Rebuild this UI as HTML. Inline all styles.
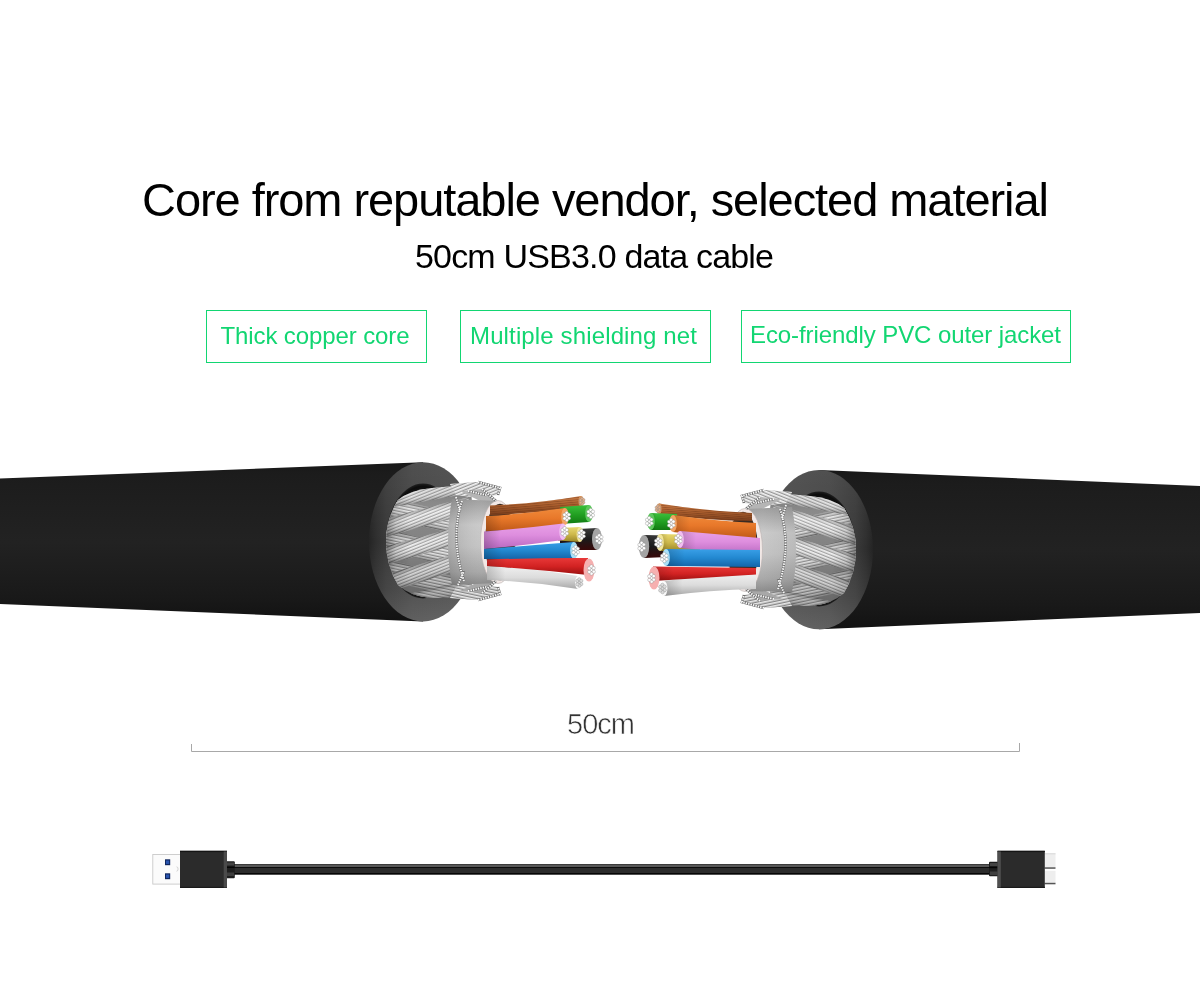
<!DOCTYPE html>
<html><head><meta charset="utf-8"><title>USB3.0 cable</title>
<style>
html,body{margin:0;padding:0;background:#fff;}
body{width:1200px;height:1000px;overflow:hidden;position:relative;font-family:"Liberation Sans",sans-serif;}
svg{position:absolute;left:0;top:0;display:block;will-change:transform;}
</style></head>
<body>
<svg width="1200" height="1000" viewBox="0 0 1200 1000" font-family="Liberation Sans, sans-serif">
<defs>
<linearGradient id="jk" x1="0" y1="0" x2="0" y2="1">
<stop offset="0" stop-color="#181818"/><stop offset="0.08" stop-color="#1c1c1c"/><stop offset="0.5" stop-color="#222"/><stop offset="0.85" stop-color="#191919"/><stop offset="1" stop-color="#121212"/>
</linearGradient>
<linearGradient id="faceL" x1="0" y1="0" x2="1" y2="0">
<stop offset="0" stop-color="#242424"/><stop offset="0.06" stop-color="#2e2e2e"/><stop offset="0.16" stop-color="#3a3a3a"/><stop offset="0.4" stop-color="#464646"/><stop offset="1" stop-color="#4e4e4e"/>
</linearGradient>
<linearGradient id="faceR" x1="1" y1="0" x2="0" y2="0">
<stop offset="0" stop-color="#242424"/><stop offset="0.06" stop-color="#2e2e2e"/><stop offset="0.16" stop-color="#3a3a3a"/><stop offset="0.4" stop-color="#464646"/><stop offset="1" stop-color="#4e4e4e"/>
</linearGradient>
<linearGradient id="faceV" x1="0" y1="0" x2="0" y2="1">
<stop offset="0" stop-color="#fff" stop-opacity="0.05"/><stop offset="0.5" stop-color="#fff" stop-opacity="0"/><stop offset="0.8" stop-color="#fff" stop-opacity="0.06"/><stop offset="1" stop-color="#fff" stop-opacity="0.14"/>
</linearGradient>
<linearGradient id="braid" x1="0" y1="0" x2="0" y2="1">
<stop offset="0" stop-color="#b8b8b8"/><stop offset="0.25" stop-color="#d2d2d2"/><stop offset="0.5" stop-color="#c4c4c4"/><stop offset="0.8" stop-color="#a8a8a8"/><stop offset="1" stop-color="#8a8a8a"/>
</linearGradient>
<linearGradient id="foil" x1="0" y1="0" x2="0" y2="1">
<stop offset="0" stop-color="#9a9a9a"/><stop offset="0.3" stop-color="#c8c8c8"/><stop offset="0.55" stop-color="#c2c2c2"/><stop offset="0.85" stop-color="#a4a4a4"/><stop offset="1" stop-color="#858585"/>
</linearGradient>
<pattern id="strands" width="4" height="4" patternUnits="userSpaceOnUse" patternTransform="rotate(-12)">
<rect width="4" height="1.4" fill="#000" fill-opacity="0.22"/>
</pattern>
<pattern id="strands2" width="4" height="4" patternUnits="userSpaceOnUse" patternTransform="rotate(14)">
<rect width="4" height="1.4" fill="#000" fill-opacity="0.22"/>
</pattern>
<linearGradient id="wBrown" x1="0" y1="0" x2="0" y2="1"><stop offset="0" stop-color="#c87a45"/><stop offset="0.5" stop-color="#a85c2c"/><stop offset="1" stop-color="#7a3e1c"/></linearGradient>
<linearGradient id="wOrange" x1="0" y1="0" x2="0" y2="1"><stop offset="0" stop-color="#f08a3a"/><stop offset="0.45" stop-color="#e8782a"/><stop offset="1" stop-color="#c05a18"/></linearGradient>
<linearGradient id="wGreen" x1="0" y1="0" x2="0" y2="1"><stop offset="0" stop-color="#3cc03c"/><stop offset="0.5" stop-color="#22a022"/><stop offset="1" stop-color="#127a12"/></linearGradient>
<linearGradient id="wPink" x1="0" y1="0" x2="0" y2="1"><stop offset="0" stop-color="#e8a0e8"/><stop offset="0.45" stop-color="#de8ede"/><stop offset="1" stop-color="#b868c0"/></linearGradient>
<linearGradient id="wYellow" x1="0" y1="0" x2="0" y2="1"><stop offset="0" stop-color="#e8d870"/><stop offset="0.5" stop-color="#cdb84a"/><stop offset="1" stop-color="#9a8628"/></linearGradient>
<linearGradient id="wBlack" x1="0" y1="0" x2="0" y2="1"><stop offset="0" stop-color="#3a3a3a"/><stop offset="0.5" stop-color="#1a1a1a"/><stop offset="1" stop-color="#3a0808"/></linearGradient>
<linearGradient id="wBlue" x1="0" y1="0" x2="0" y2="1"><stop offset="0" stop-color="#3aa0e8"/><stop offset="0.5" stop-color="#2288d0"/><stop offset="1" stop-color="#1464a8"/></linearGradient>
<linearGradient id="wRed" x1="0" y1="0" x2="0" y2="1"><stop offset="0" stop-color="#e83838"/><stop offset="0.5" stop-color="#d22222"/><stop offset="1" stop-color="#9a1010"/></linearGradient>
<linearGradient id="wWhite" x1="0" y1="0" x2="0" y2="1"><stop offset="0" stop-color="#f0f0f0"/><stop offset="0.5" stop-color="#dcdcdc"/><stop offset="1" stop-color="#a8a8a8"/></linearGradient>
<pattern id="cuLines" width="3" height="2.2" patternUnits="userSpaceOnUse" patternTransform="rotate(-5)">
<rect width="3" height="0.8" fill="#5a2a10" fill-opacity="0.35"/>
</pattern>
<pattern id="strA" width="3" height="3" patternUnits="userSpaceOnUse" patternTransform="rotate(-22)">
<rect width="3" height="3" fill="#d8d8d8"/><rect y="0" width="3" height="1" fill="#f2f2f2"/><rect y="2" width="3" height="1" fill="#959595"/>
</pattern>
<pattern id="strB" width="3" height="3" patternUnits="userSpaceOnUse" patternTransform="rotate(12)">
<rect width="3" height="3" fill="#c8c8c8"/><rect y="0" width="3" height="1" fill="#e8e8e8"/><rect y="2" width="3" height="1" fill="#858585"/>
</pattern>
<linearGradient id="bShadeH" x1="0" y1="0" x2="1" y2="0">
<stop offset="0" stop-color="#000" stop-opacity="0.6"/><stop offset="0.08" stop-color="#000" stop-opacity="0.35"/><stop offset="0.16" stop-color="#000" stop-opacity="0.12"/><stop offset="0.3" stop-color="#000" stop-opacity="0"/><stop offset="1" stop-color="#000" stop-opacity="0"/>
</linearGradient>
<linearGradient id="bShadeV" x1="0" y1="0" x2="0" y2="1">
<stop offset="0" stop-color="#000" stop-opacity="0.1"/><stop offset="0.25" stop-color="#fff" stop-opacity="0.08"/><stop offset="0.55" stop-color="#000" stop-opacity="0"/><stop offset="1" stop-color="#000" stop-opacity="0.25"/>
</linearGradient>
<linearGradient id="foilH" x1="0" y1="0" x2="1" y2="0">
<stop offset="0" stop-color="#000" stop-opacity="0.12"/><stop offset="0.5" stop-color="#fff" stop-opacity="0.05"/><stop offset="1" stop-color="#000" stop-opacity="0.05"/>
</linearGradient>
<linearGradient id="wShade" x1="0" y1="0" x2="1" y2="0">
<stop offset="0" stop-color="#000" stop-opacity="0.18"/><stop offset="0.2" stop-color="#000" stop-opacity="0"/><stop offset="1" stop-color="#000" stop-opacity="0"/>
</linearGradient>
<radialGradient id="holeG" cx="0.5" cy="0.5" r="0.5">
<stop offset="0.8" stop-color="#1a1a1a"/><stop offset="0.95" stop-color="#0c0c0c"/><stop offset="1" stop-color="#202020"/>
</radialGradient>
</defs>
<rect x="0" y="0" width="1200" height="1000" fill="#fff"/>

<!-- headings -->
<text x="142" y="215.5" font-size="47" fill="#000" textLength="907" lengthAdjust="spacing">Core from reputable vendor, selected material</text>
<text x="415" y="268.2" font-size="34" fill="#000" textLength="359" lengthAdjust="spacing">50cm USB3.0 data cable</text>

<!-- feature boxes -->
<g fill="none" stroke="#12d672" stroke-width="1">
<rect x="206.5" y="310.5" width="220" height="52"/>
<rect x="460.5" y="310.5" width="250" height="52"/>
<rect x="741.5" y="310.5" width="329" height="52"/>
</g>
<g font-size="24" fill="#12d672">
<text x="220.5" y="344" textLength="189" lengthAdjust="spacing">Thick copper core</text>
<text x="470" y="344" textLength="227" lengthAdjust="spacing">Multiple shielding net</text>
<text x="750" y="343" textLength="311" lengthAdjust="spacing">Eco-friendly PVC outer jacket</text>
</g>

<!-- CABLES -->
<g id="cables">
<g id="left">
<path d="M-2 478.7 L423 462.2 L423 621.4 L-2 604 Z" fill="url(#jk)"/>
<ellipse cx="423" cy="541.8" rx="54" ry="79.6" fill="url(#faceL)"/>
<ellipse cx="423" cy="541.8" rx="54" ry="79.6" fill="url(#faceV)"/>
<g transform="translate(420 541)"><g id="braidLoc">
<ellipse cx="3" cy="0" rx="37" ry="57.5" fill="url(#holeG)"/>
<clipPath id="bclip"><path d="M46 -56 L12 -53 Q-10 -51 -22 -41 Q-34 -22 -34 0 Q-34 24 -22 44 Q-10 55 10 57 L50 57 Q58 0 50 -56 Z"/></clipPath>
<g clip-path="url(#bclip)">
<rect x="-40" y="-60" width="100" height="120" fill="#858585"/>
<linearGradient id="sh76561" gradientUnits="userSpaceOnUse" x1="9.3" y1="-33.7" x2="4.7" y2="-14.3"><stop offset="0" stop-color="#000" stop-opacity="0.28"/><stop offset="0.3" stop-color="#fff" stop-opacity="0.18"/><stop offset="0.6" stop-color="#fff" stop-opacity="0.06"/><stop offset="1" stop-color="#000" stop-opacity="0.32"/></linearGradient>
<path d="M-33.7 -43.7 L52.3 -23.7 L47.7 -4.3 L-38.3 -24.3 Z" fill="url(#strB)"/>
<path d="M-33.7 -43.7 L52.3 -23.7 L47.7 -4.3 L-38.3 -24.3 Z" fill="url(#sh76561)"/>
<linearGradient id="sh5717" gradientUnits="userSpaceOnUse" x1="9.5" y1="-0.7" x2="4.5" y2="18.7"><stop offset="0" stop-color="#000" stop-opacity="0.28"/><stop offset="0.3" stop-color="#fff" stop-opacity="0.18"/><stop offset="0.6" stop-color="#fff" stop-opacity="0.06"/><stop offset="1" stop-color="#000" stop-opacity="0.32"/></linearGradient>
<path d="M-33.5 -11.7 L52.5 10.3 L47.5 29.7 L-38.5 7.7 Z" fill="url(#strB)"/>
<path d="M-33.5 -11.7 L52.5 10.3 L47.5 29.7 L-38.5 7.7 Z" fill="url(#sh5717)"/>
<linearGradient id="sh34391" gradientUnits="userSpaceOnUse" x1="9.5" y1="29.3" x2="4.5" y2="48.7"><stop offset="0" stop-color="#000" stop-opacity="0.28"/><stop offset="0.3" stop-color="#fff" stop-opacity="0.18"/><stop offset="0.6" stop-color="#fff" stop-opacity="0.06"/><stop offset="1" stop-color="#000" stop-opacity="0.32"/></linearGradient>
<path d="M-33.5 18.3 L52.5 40.3 L47.5 59.7 L-38.5 37.7 Z" fill="url(#strB)"/>
<path d="M-33.5 18.3 L52.5 40.3 L47.5 59.7 L-38.5 37.7 Z" fill="url(#sh34391)"/>
<linearGradient id="sh48192" gradientUnits="userSpaceOnUse" x1="9.7" y1="-56.9" x2="12.3" y2="-41.1"><stop offset="0" stop-color="#000" stop-opacity="0.28"/><stop offset="0.3" stop-color="#fff" stop-opacity="0.18"/><stop offset="0.6" stop-color="#fff" stop-opacity="0.06"/><stop offset="1" stop-color="#000" stop-opacity="0.32"/></linearGradient>
<path d="M-31.4 -50.4 L50.7 -63.4 L53.3 -48.6 L-28.6 -33.6 Z" fill="url(#strA)"/>
<path d="M-31.4 -50.4 L50.7 -63.4 L53.3 -48.6 L-28.6 -33.6 Z" fill="url(#sh48192)"/>
<linearGradient id="sh73596" gradientUnits="userSpaceOnUse" x1="4.8" y1="-32.7" x2="9.2" y2="-16.3"><stop offset="0" stop-color="#000" stop-opacity="0.28"/><stop offset="0.3" stop-color="#fff" stop-opacity="0.18"/><stop offset="0.6" stop-color="#fff" stop-opacity="0.06"/><stop offset="1" stop-color="#000" stop-opacity="0.32"/></linearGradient>
<path d="M-38.3 -21.7 L47.9 -43.7 L52.1 -28.3 L-33.7 -4.3 Z" fill="url(#strA)"/>
<path d="M-38.3 -21.7 L47.9 -43.7 L52.1 -28.3 L-33.7 -4.3 Z" fill="url(#sh73596)"/>
<linearGradient id="sh84668" gradientUnits="userSpaceOnUse" x1="4.7" y1="-5.2" x2="9.3" y2="11.2"><stop offset="0" stop-color="#000" stop-opacity="0.28"/><stop offset="0.3" stop-color="#fff" stop-opacity="0.18"/><stop offset="0.6" stop-color="#fff" stop-opacity="0.06"/><stop offset="1" stop-color="#000" stop-opacity="0.32"/></linearGradient>
<path d="M-38.4 6.3 L47.8 -16.7 L52.2 -1.3 L-33.6 23.7 Z" fill="url(#strA)"/>
<path d="M-38.4 6.3 L47.8 -16.7 L52.2 -1.3 L-33.6 23.7 Z" fill="url(#sh84668)"/>
<linearGradient id="sh19072" gradientUnits="userSpaceOnUse" x1="6.5" y1="21.4" x2="11.5" y2="37.6"><stop offset="0" stop-color="#000" stop-opacity="0.28"/><stop offset="0.3" stop-color="#fff" stop-opacity="0.18"/><stop offset="0.6" stop-color="#fff" stop-opacity="0.06"/><stop offset="1" stop-color="#000" stop-opacity="0.32"/></linearGradient>
<path d="M-34.6 33.4 L47.7 9.3 L52.3 24.7 L-29.4 50.6 Z" fill="url(#strA)"/>
<path d="M-34.6 33.4 L47.7 9.3 L52.3 24.7 L-29.4 50.6 Z" fill="url(#sh19072)"/>
<linearGradient id="sh34607" gradientUnits="userSpaceOnUse" x1="17.6" y1="46.2" x2="20.4" y2="58.8"><stop offset="0" stop-color="#000" stop-opacity="0.28"/><stop offset="0.3" stop-color="#fff" stop-opacity="0.18"/><stop offset="0.6" stop-color="#fff" stop-opacity="0.06"/><stop offset="1" stop-color="#000" stop-opacity="0.32"/></linearGradient>
<path d="M-15.4 53.7 L50.6 38.7 L53.4 51.3 L-12.6 66.3 Z" fill="url(#strB)"/>
<path d="M-15.4 53.7 L50.6 38.7 L53.4 51.3 L-12.6 66.3 Z" fill="url(#sh34607)"/>
<rect x="-40" y="-60" width="100" height="120" fill="url(#bShadeH)"/>
<rect x="-40" y="-60" width="100" height="120" fill="url(#bShadeV)"/>
</g>
<!-- fringe top -->
<g>
<path d="M30 -57 L58 -59 L80 -53 L78 -46 L52 -44 L36 -46 Z" fill="#c6c6c6"/>
<path d="M30 -57 L58 -59 L80 -53 L78 -46 L52 -44 L36 -46 Z" fill="url(#strA)"/>
<path d="M40 -50 L62 -52 L76 -40 L64 -38 Z" fill="#b5b5b5"/>
<path d="M30 57 L58 59 L80 53 L78 46 L52 44 L36 46 Z" fill="#b0b0b0"/>
<path d="M30 57 L58 59 L80 53 L78 46 L52 44 L36 46 Z" fill="url(#strB)"/>
<path d="M40 50 L62 52 L76 40 L64 38 Z" fill="#a8a8a8"/>
</g>
</g></g>
<path d="M452 499 L498 501 A17 41 0 0 1 498 583 L452 585 Q444 542 452 499 Z" fill="url(#foil)"/>
<path d="M452 499 L498 501 A17 41 0 0 1 498 583 L452 585 Q444 542 452 499 Z" fill="url(#foilH)"/>
<ellipse cx="498" cy="542" rx="17.5" ry="41.5" fill="#f2e8e6" stroke="#b9b0ae" stroke-width="0.6"/>
<ellipse cx="500" cy="542" rx="15" ry="38.3" fill="#3a2a22"/>
<g transform="translate(420 541)"><g id="fringeLoc" fill="none">
<g stroke="#6a6a6a" stroke-width="2.6">
<path d="M42 -40 Q30 -4 44 40"/>
<path d="M58 -59 L80 -53 L78 -46"/><path d="M62 -52 L76 -40"/><path d="M48 -50 L66 -46"/>
<path d="M58 59 L80 53 L78 46"/><path d="M62 52 L76 40"/><path d="M48 50 L66 46"/>
<path d="M36 -44 L40 -30"/><path d="M38 44 L44 30"/>
</g>
<g stroke="#f8f8f8" stroke-width="2" stroke-dasharray="1.5 1">
<path d="M42 -40 Q30 -4 44 40"/>
<path d="M58 -59 L80 -53 L78 -46"/><path d="M62 -52 L76 -40"/><path d="M48 -50 L66 -46"/>
<path d="M58 59 L80 53 L78 46"/><path d="M62 52 L76 40"/><path d="M48 50 L66 46"/>
<path d="M36 -44 L40 -30"/><path d="M38 44 L44 30"/>
</g>
</g></g>
<path d="M490 505.5 Q535.5 503.8 581 496 L581 506.5 Q535.5 513.8 490 515 Z" fill="url(#wBrown)"/>
<path d="M490 505.5 Q535.5 503.8 581 496 L581 506.5 Q535.5 513.8 490 515 Z" fill="url(#cuLines)"/>
<ellipse cx="581" cy="501.2" rx="2.5" ry="5.2" fill="#d8955f"/>
<circle cx="582.1" cy="501.2" r="1.3" fill="#e8b088" stroke="#8a8a8a" stroke-width="0.4"/>
<circle cx="583.7" cy="502.5" r="1.3" fill="#e8b088" stroke="#8a8a8a" stroke-width="0.4"/>
<circle cx="582.2" cy="503.9" r="1.3" fill="#e8b088" stroke="#8a8a8a" stroke-width="0.4"/>
<circle cx="580.6" cy="502.6" r="1.3" fill="#e8b088" stroke="#8a8a8a" stroke-width="0.4"/>
<circle cx="580.5" cy="500.0" r="1.3" fill="#e8b088" stroke="#8a8a8a" stroke-width="0.4"/>
<circle cx="582.1" cy="498.6" r="1.3" fill="#e8b088" stroke="#8a8a8a" stroke-width="0.4"/>
<circle cx="583.7" cy="499.9" r="1.3" fill="#e8b088" stroke="#8a8a8a" stroke-width="0.4"/>
<path d="M560 507 Q574.5 506.0 589 505 L589 522 Q574.5 523.0 560 524 Z" fill="url(#wGreen)"/>
<path d="M560 507 Q574.5 506.0 589 505 L589 522 Q574.5 523.0 560 524 Z" fill="url(#wShade)"/>
<ellipse cx="589" cy="513.5" rx="3.8" ry="8.5" fill="#5cc85c"/>
<circle cx="590.7" cy="513.5" r="1.7" fill="#fff" stroke="#8a8a8a" stroke-width="0.4"/>
<circle cx="592.9" cy="515.2" r="1.7" fill="#fff" stroke="#8a8a8a" stroke-width="0.4"/>
<circle cx="590.8" cy="517.1" r="1.7" fill="#fff" stroke="#8a8a8a" stroke-width="0.4"/>
<circle cx="588.6" cy="515.4" r="1.7" fill="#fff" stroke="#8a8a8a" stroke-width="0.4"/>
<circle cx="588.5" cy="511.8" r="1.7" fill="#fff" stroke="#8a8a8a" stroke-width="0.4"/>
<circle cx="590.7" cy="509.9" r="1.7" fill="#fff" stroke="#8a8a8a" stroke-width="0.4"/>
<circle cx="592.9" cy="511.6" r="1.7" fill="#fff" stroke="#8a8a8a" stroke-width="0.4"/>
<path d="M486 516 Q525.5 514.0 565 508 L565 525 Q525.5 530.0 486 531 Z" fill="url(#wOrange)"/>
<path d="M486 516 Q525.5 514.0 565 508 L565 525 Q525.5 530.0 486 531 Z" fill="url(#wShade)"/>
<ellipse cx="565" cy="516.5" rx="3.8" ry="8.5" fill="#f4a464"/>
<circle cx="566.7" cy="516.5" r="1.7" fill="#fff" stroke="#8a8a8a" stroke-width="0.4"/>
<circle cx="568.9" cy="518.2" r="1.7" fill="#fff" stroke="#8a8a8a" stroke-width="0.4"/>
<circle cx="566.8" cy="520.1" r="1.7" fill="#fff" stroke="#8a8a8a" stroke-width="0.4"/>
<circle cx="564.6" cy="518.4" r="1.7" fill="#fff" stroke="#8a8a8a" stroke-width="0.4"/>
<circle cx="564.5" cy="514.8" r="1.7" fill="#fff" stroke="#8a8a8a" stroke-width="0.4"/>
<circle cx="566.7" cy="512.9" r="1.7" fill="#fff" stroke="#8a8a8a" stroke-width="0.4"/>
<circle cx="568.9" cy="514.6" r="1.7" fill="#fff" stroke="#8a8a8a" stroke-width="0.4"/>
<path d="M560 530 Q578.5 529.0 597 528 L597 550 Q578.5 550.0 560 550 Z" fill="url(#wBlack)"/>
<path d="M560 530 Q578.5 529.0 597 528 L597 550 Q578.5 550.0 560 550 Z" fill="url(#wShade)"/>
<ellipse cx="597" cy="539.0" rx="5.0" ry="11.0" fill="#a4a4a4"/>
<circle cx="599.2" cy="539.0" r="1.7" fill="#fff" stroke="#8a8a8a" stroke-width="0.4"/>
<circle cx="601.4" cy="540.7" r="1.7" fill="#fff" stroke="#8a8a8a" stroke-width="0.4"/>
<circle cx="599.3" cy="542.6" r="1.7" fill="#fff" stroke="#8a8a8a" stroke-width="0.4"/>
<circle cx="597.1" cy="540.9" r="1.7" fill="#fff" stroke="#8a8a8a" stroke-width="0.4"/>
<circle cx="597.0" cy="537.3" r="1.7" fill="#fff" stroke="#8a8a8a" stroke-width="0.4"/>
<circle cx="599.2" cy="535.4" r="1.7" fill="#fff" stroke="#8a8a8a" stroke-width="0.4"/>
<circle cx="601.4" cy="537.1" r="1.7" fill="#fff" stroke="#8a8a8a" stroke-width="0.4"/>
<path d="M558 528 Q569.0 527.5 580 527 L580 542 Q569.0 541.2 558 540.5 Z" fill="url(#wYellow)"/>
<path d="M558 528 Q569.0 527.5 580 527 L580 542 Q569.0 541.2 558 540.5 Z" fill="url(#wShade)"/>
<ellipse cx="580" cy="534.5" rx="3.4" ry="7.5" fill="#f2e69a"/>
<circle cx="581.5" cy="534.5" r="1.7" fill="#fff" stroke="#8a8a8a" stroke-width="0.4"/>
<circle cx="583.7" cy="536.2" r="1.7" fill="#fff" stroke="#8a8a8a" stroke-width="0.4"/>
<circle cx="581.6" cy="538.1" r="1.7" fill="#fff" stroke="#8a8a8a" stroke-width="0.4"/>
<circle cx="579.4" cy="536.4" r="1.7" fill="#fff" stroke="#8a8a8a" stroke-width="0.4"/>
<circle cx="579.3" cy="532.8" r="1.7" fill="#fff" stroke="#8a8a8a" stroke-width="0.4"/>
<circle cx="581.5" cy="530.9" r="1.7" fill="#fff" stroke="#8a8a8a" stroke-width="0.4"/>
<circle cx="583.7" cy="532.6" r="1.7" fill="#fff" stroke="#8a8a8a" stroke-width="0.4"/>
<path d="M484 531.5 Q523.5 528.5 563 523.5 L563 540 Q523.5 545.5 484 549 Z" fill="url(#wPink)"/>
<path d="M484 531.5 Q523.5 528.5 563 523.5 L563 540 Q523.5 545.5 484 549 Z" fill="url(#wShade)"/>
<ellipse cx="563" cy="531.8" rx="3.7" ry="8.2" fill="#f2bef2"/>
<circle cx="564.7" cy="531.8" r="1.7" fill="#fff" stroke="#8a8a8a" stroke-width="0.4"/>
<circle cx="566.9" cy="533.5" r="1.7" fill="#fff" stroke="#8a8a8a" stroke-width="0.4"/>
<circle cx="564.7" cy="535.3" r="1.7" fill="#fff" stroke="#8a8a8a" stroke-width="0.4"/>
<circle cx="562.5" cy="533.6" r="1.7" fill="#fff" stroke="#8a8a8a" stroke-width="0.4"/>
<circle cx="562.5" cy="530.0" r="1.7" fill="#fff" stroke="#8a8a8a" stroke-width="0.4"/>
<circle cx="564.6" cy="528.2" r="1.7" fill="#fff" stroke="#8a8a8a" stroke-width="0.4"/>
<circle cx="566.8" cy="529.9" r="1.7" fill="#fff" stroke="#8a8a8a" stroke-width="0.4"/>
<path d="M484 549 Q529.0 545.5 574 542 L574 559 Q529.0 559.0 484 559 Z" fill="url(#wBlue)"/>
<path d="M484 549 Q529.0 545.5 574 542 L574 559 Q529.0 559.0 484 559 Z" fill="url(#wShade)"/>
<ellipse cx="574" cy="550.5" rx="3.8" ry="8.5" fill="#a8e0f8"/>
<circle cx="575.7" cy="550.5" r="1.7" fill="#fff" stroke="#8a8a8a" stroke-width="0.4"/>
<circle cx="577.9" cy="552.2" r="1.7" fill="#fff" stroke="#8a8a8a" stroke-width="0.4"/>
<circle cx="575.8" cy="554.1" r="1.7" fill="#fff" stroke="#8a8a8a" stroke-width="0.4"/>
<circle cx="573.6" cy="552.4" r="1.7" fill="#fff" stroke="#8a8a8a" stroke-width="0.4"/>
<circle cx="573.5" cy="548.8" r="1.7" fill="#fff" stroke="#8a8a8a" stroke-width="0.4"/>
<circle cx="575.7" cy="546.9" r="1.7" fill="#fff" stroke="#8a8a8a" stroke-width="0.4"/>
<circle cx="577.9" cy="548.6" r="1.7" fill="#fff" stroke="#8a8a8a" stroke-width="0.4"/>
<path d="M487 566 Q532.5 568.0 578 576 L578 589 Q532.5 581.5 487 580 Z" fill="url(#wWhite)"/>
<path d="M487 566 Q532.5 568.0 578 576 L578 589 Q532.5 581.5 487 580 Z" fill="url(#wShade)"/>
<ellipse cx="578" cy="582.5" rx="2.9" ry="6.5" fill="#fafafa"/>
<circle cx="579.3" cy="582.5" r="1.6" fill="#ddd" stroke="#8a8a8a" stroke-width="0.4"/>
<circle cx="581.3" cy="584.1" r="1.6" fill="#ddd" stroke="#8a8a8a" stroke-width="0.4"/>
<circle cx="579.4" cy="585.7" r="1.6" fill="#ddd" stroke="#8a8a8a" stroke-width="0.4"/>
<circle cx="577.4" cy="584.2" r="1.6" fill="#ddd" stroke="#8a8a8a" stroke-width="0.4"/>
<circle cx="577.3" cy="580.9" r="1.6" fill="#ddd" stroke="#8a8a8a" stroke-width="0.4"/>
<circle cx="579.3" cy="579.3" r="1.6" fill="#ddd" stroke="#8a8a8a" stroke-width="0.4"/>
<circle cx="581.3" cy="580.8" r="1.6" fill="#ddd" stroke="#8a8a8a" stroke-width="0.4"/>
<path d="M487 559.5 Q537.5 557.8 588 558 L588 575 Q537.5 569.5 487 566 Z" fill="url(#wRed)"/>
<path d="M487 559.5 Q537.5 557.8 588 558 L588 575 Q537.5 569.5 487 566 Z" fill="url(#wShade)"/>
<ellipse cx="589" cy="570.0" rx="5.5" ry="11.5" fill="#f6b0b0"/>
<circle cx="591.5" cy="570.0" r="1.7" fill="#fff" stroke="#8a8a8a" stroke-width="0.4"/>
<circle cx="593.7" cy="571.7" r="1.7" fill="#fff" stroke="#8a8a8a" stroke-width="0.4"/>
<circle cx="591.5" cy="573.6" r="1.7" fill="#fff" stroke="#8a8a8a" stroke-width="0.4"/>
<circle cx="589.3" cy="571.9" r="1.7" fill="#fff" stroke="#8a8a8a" stroke-width="0.4"/>
<circle cx="589.3" cy="568.3" r="1.7" fill="#fff" stroke="#8a8a8a" stroke-width="0.4"/>
<circle cx="591.4" cy="566.4" r="1.7" fill="#fff" stroke="#8a8a8a" stroke-width="0.4"/>
<circle cx="593.6" cy="568.1" r="1.7" fill="#fff" stroke="#8a8a8a" stroke-width="0.4"/>
</g>
<g id="right">
<path d="M819 470 L1202 486 L1202 613 L819 629.2 Z" fill="url(#jk)"/>
<ellipse cx="819" cy="549.6" rx="54" ry="79.6" fill="url(#faceR)"/>
<ellipse cx="819" cy="549.6" rx="54" ry="79.6" fill="url(#faceV)"/>
<g transform="translate(822 549) scale(-1 1)"><g id="braidLoc2">
<ellipse cx="3" cy="0" rx="37" ry="57.5" fill="url(#holeG)"/>
<clipPath id="bclip2"><path d="M46 -56 L12 -53 Q-10 -51 -22 -41 Q-34 -22 -34 0 Q-34 24 -22 44 Q-10 55 10 57 L50 57 Q58 0 50 -56 Z"/></clipPath>
<g clip-path="url(#bclip2)">
<rect x="-40" y="-60" width="100" height="120" fill="#858585"/>
<linearGradient id="sh76561b" gradientUnits="userSpaceOnUse" x1="9.3" y1="-33.7" x2="4.7" y2="-14.3"><stop offset="0" stop-color="#000" stop-opacity="0.28"/><stop offset="0.3" stop-color="#fff" stop-opacity="0.18"/><stop offset="0.6" stop-color="#fff" stop-opacity="0.06"/><stop offset="1" stop-color="#000" stop-opacity="0.32"/></linearGradient>
<path d="M-33.7 -43.7 L52.3 -23.7 L47.7 -4.3 L-38.3 -24.3 Z" fill="url(#strB)"/>
<path d="M-33.7 -43.7 L52.3 -23.7 L47.7 -4.3 L-38.3 -24.3 Z" fill="url(#sh76561b)"/>
<linearGradient id="sh5717b" gradientUnits="userSpaceOnUse" x1="9.5" y1="-0.7" x2="4.5" y2="18.7"><stop offset="0" stop-color="#000" stop-opacity="0.28"/><stop offset="0.3" stop-color="#fff" stop-opacity="0.18"/><stop offset="0.6" stop-color="#fff" stop-opacity="0.06"/><stop offset="1" stop-color="#000" stop-opacity="0.32"/></linearGradient>
<path d="M-33.5 -11.7 L52.5 10.3 L47.5 29.7 L-38.5 7.7 Z" fill="url(#strB)"/>
<path d="M-33.5 -11.7 L52.5 10.3 L47.5 29.7 L-38.5 7.7 Z" fill="url(#sh5717b)"/>
<linearGradient id="sh34391b" gradientUnits="userSpaceOnUse" x1="9.5" y1="29.3" x2="4.5" y2="48.7"><stop offset="0" stop-color="#000" stop-opacity="0.28"/><stop offset="0.3" stop-color="#fff" stop-opacity="0.18"/><stop offset="0.6" stop-color="#fff" stop-opacity="0.06"/><stop offset="1" stop-color="#000" stop-opacity="0.32"/></linearGradient>
<path d="M-33.5 18.3 L52.5 40.3 L47.5 59.7 L-38.5 37.7 Z" fill="url(#strB)"/>
<path d="M-33.5 18.3 L52.5 40.3 L47.5 59.7 L-38.5 37.7 Z" fill="url(#sh34391b)"/>
<linearGradient id="sh48192b" gradientUnits="userSpaceOnUse" x1="9.7" y1="-56.9" x2="12.3" y2="-41.1"><stop offset="0" stop-color="#000" stop-opacity="0.28"/><stop offset="0.3" stop-color="#fff" stop-opacity="0.18"/><stop offset="0.6" stop-color="#fff" stop-opacity="0.06"/><stop offset="1" stop-color="#000" stop-opacity="0.32"/></linearGradient>
<path d="M-31.4 -50.4 L50.7 -63.4 L53.3 -48.6 L-28.6 -33.6 Z" fill="url(#strA)"/>
<path d="M-31.4 -50.4 L50.7 -63.4 L53.3 -48.6 L-28.6 -33.6 Z" fill="url(#sh48192b)"/>
<linearGradient id="sh73596b" gradientUnits="userSpaceOnUse" x1="4.8" y1="-32.7" x2="9.2" y2="-16.3"><stop offset="0" stop-color="#000" stop-opacity="0.28"/><stop offset="0.3" stop-color="#fff" stop-opacity="0.18"/><stop offset="0.6" stop-color="#fff" stop-opacity="0.06"/><stop offset="1" stop-color="#000" stop-opacity="0.32"/></linearGradient>
<path d="M-38.3 -21.7 L47.9 -43.7 L52.1 -28.3 L-33.7 -4.3 Z" fill="url(#strA)"/>
<path d="M-38.3 -21.7 L47.9 -43.7 L52.1 -28.3 L-33.7 -4.3 Z" fill="url(#sh73596b)"/>
<linearGradient id="sh84668b" gradientUnits="userSpaceOnUse" x1="4.7" y1="-5.2" x2="9.3" y2="11.2"><stop offset="0" stop-color="#000" stop-opacity="0.28"/><stop offset="0.3" stop-color="#fff" stop-opacity="0.18"/><stop offset="0.6" stop-color="#fff" stop-opacity="0.06"/><stop offset="1" stop-color="#000" stop-opacity="0.32"/></linearGradient>
<path d="M-38.4 6.3 L47.8 -16.7 L52.2 -1.3 L-33.6 23.7 Z" fill="url(#strA)"/>
<path d="M-38.4 6.3 L47.8 -16.7 L52.2 -1.3 L-33.6 23.7 Z" fill="url(#sh84668b)"/>
<linearGradient id="sh19072b" gradientUnits="userSpaceOnUse" x1="6.5" y1="21.4" x2="11.5" y2="37.6"><stop offset="0" stop-color="#000" stop-opacity="0.28"/><stop offset="0.3" stop-color="#fff" stop-opacity="0.18"/><stop offset="0.6" stop-color="#fff" stop-opacity="0.06"/><stop offset="1" stop-color="#000" stop-opacity="0.32"/></linearGradient>
<path d="M-34.6 33.4 L47.7 9.3 L52.3 24.7 L-29.4 50.6 Z" fill="url(#strA)"/>
<path d="M-34.6 33.4 L47.7 9.3 L52.3 24.7 L-29.4 50.6 Z" fill="url(#sh19072b)"/>
<linearGradient id="sh34607b" gradientUnits="userSpaceOnUse" x1="17.6" y1="46.2" x2="20.4" y2="58.8"><stop offset="0" stop-color="#000" stop-opacity="0.28"/><stop offset="0.3" stop-color="#fff" stop-opacity="0.18"/><stop offset="0.6" stop-color="#fff" stop-opacity="0.06"/><stop offset="1" stop-color="#000" stop-opacity="0.32"/></linearGradient>
<path d="M-15.4 53.7 L50.6 38.7 L53.4 51.3 L-12.6 66.3 Z" fill="url(#strB)"/>
<path d="M-15.4 53.7 L50.6 38.7 L53.4 51.3 L-12.6 66.3 Z" fill="url(#sh34607b)"/>
<rect x="-40" y="-60" width="100" height="120" fill="url(#bShadeH)"/>
<rect x="-40" y="-60" width="100" height="120" fill="url(#bShadeV)"/>
</g>
<!-- fringe top -->
<g>
<path d="M30 -57 L58 -59 L80 -53 L78 -46 L52 -44 L36 -46 Z" fill="#c6c6c6"/>
<path d="M30 -57 L58 -59 L80 -53 L78 -46 L52 -44 L36 -46 Z" fill="url(#strA)"/>
<path d="M40 -50 L62 -52 L76 -40 L64 -38 Z" fill="#b5b5b5"/>
<path d="M30 57 L58 59 L80 53 L78 46 L52 44 L36 46 Z" fill="#b0b0b0"/>
<path d="M30 57 L58 59 L80 53 L78 46 L52 44 L36 46 Z" fill="url(#strB)"/>
<path d="M40 50 L62 52 L76 40 L64 38 Z" fill="#a8a8a8"/>
</g>
</g></g>
<path d="M792 507 L745 509 A17 41 0 0 0 745 591 L792 592 Q800 550 792 507 Z" fill="url(#foil)"/>
<path d="M792 507 L745 509 A17 41 0 0 0 745 591 L792 592 Q800 550 792 507 Z" fill="url(#foilH)"/>
<ellipse cx="745" cy="550" rx="17.5" ry="41.5" fill="#f2e8e6" stroke="#b9b0ae" stroke-width="0.6"/>
<ellipse cx="743" cy="550" rx="15" ry="38.3" fill="#3a2a22"/>
<g transform="translate(822 549) scale(-1 1)"><g id="fringeLoc2" fill="none">
<g stroke="#6a6a6a" stroke-width="2.6">
<path d="M42 -40 Q30 -4 44 40"/>
<path d="M58 -59 L80 -53 L78 -46"/><path d="M62 -52 L76 -40"/><path d="M48 -50 L66 -46"/>
<path d="M58 59 L80 53 L78 46"/><path d="M62 52 L76 40"/><path d="M48 50 L66 46"/>
<path d="M36 -44 L40 -30"/><path d="M38 44 L44 30"/>
</g>
<g stroke="#f8f8f8" stroke-width="2" stroke-dasharray="1.5 1">
<path d="M42 -40 Q30 -4 44 40"/>
<path d="M58 -59 L80 -53 L78 -46"/><path d="M62 -52 L76 -40"/><path d="M48 -50 L66 -46"/>
<path d="M58 59 L80 53 L78 46"/><path d="M62 52 L76 40"/><path d="M48 50 L66 46"/>
<path d="M36 -44 L40 -30"/><path d="M38 44 L44 30"/>
</g>
</g></g>
<path d="M659 503.5 Q705.5 511.2 752 513 L752 521 Q705.5 520.5 659 514 Z" fill="url(#wBrown)"/>
<path d="M659 503.5 Q705.5 511.2 752 513 L752 521 Q705.5 520.5 659 514 Z" fill="url(#cuLines)"/>
<ellipse cx="659" cy="508.8" rx="2.5" ry="5.2" fill="#d8955f"/>
<circle cx="657.9" cy="508.8" r="1.3" fill="#e8b088" stroke="#8a8a8a" stroke-width="0.4"/>
<circle cx="659.5" cy="510.0" r="1.3" fill="#e8b088" stroke="#8a8a8a" stroke-width="0.4"/>
<circle cx="657.9" cy="511.4" r="1.3" fill="#e8b088" stroke="#8a8a8a" stroke-width="0.4"/>
<circle cx="656.3" cy="510.1" r="1.3" fill="#e8b088" stroke="#8a8a8a" stroke-width="0.4"/>
<circle cx="656.3" cy="507.5" r="1.3" fill="#e8b088" stroke="#8a8a8a" stroke-width="0.4"/>
<circle cx="657.8" cy="506.1" r="1.3" fill="#e8b088" stroke="#8a8a8a" stroke-width="0.4"/>
<circle cx="659.4" cy="507.4" r="1.3" fill="#e8b088" stroke="#8a8a8a" stroke-width="0.4"/>
<path d="M651 513 Q664.0 513.5 677 514 L677 530 Q664.0 530.0 651 530 Z" fill="url(#wGreen)"/>
<path d="M651 513 Q664.0 513.5 677 514 L677 530 Q664.0 530.0 651 530 Z" fill="url(#wShade)"/>
<ellipse cx="651" cy="521.5" rx="3.8" ry="8.5" fill="#5cc85c"/>
<circle cx="649.3" cy="521.5" r="1.7" fill="#fff" stroke="#8a8a8a" stroke-width="0.4"/>
<circle cx="651.5" cy="523.2" r="1.7" fill="#fff" stroke="#8a8a8a" stroke-width="0.4"/>
<circle cx="649.3" cy="525.1" r="1.7" fill="#fff" stroke="#8a8a8a" stroke-width="0.4"/>
<circle cx="647.1" cy="523.4" r="1.7" fill="#fff" stroke="#8a8a8a" stroke-width="0.4"/>
<circle cx="647.1" cy="519.8" r="1.7" fill="#fff" stroke="#8a8a8a" stroke-width="0.4"/>
<circle cx="649.2" cy="517.9" r="1.7" fill="#fff" stroke="#8a8a8a" stroke-width="0.4"/>
<circle cx="651.4" cy="519.6" r="1.7" fill="#fff" stroke="#8a8a8a" stroke-width="0.4"/>
<path d="M673 515 Q714.5 521.0 756 523 L756 538 Q714.5 537.0 673 532 Z" fill="url(#wOrange)"/>
<path d="M673 515 Q714.5 521.0 756 523 L756 538 Q714.5 537.0 673 532 Z" fill="url(#wShade)"/>
<ellipse cx="673" cy="523.5" rx="3.8" ry="8.5" fill="#f4a464"/>
<circle cx="671.3" cy="523.5" r="1.7" fill="#fff" stroke="#8a8a8a" stroke-width="0.4"/>
<circle cx="673.5" cy="525.2" r="1.7" fill="#fff" stroke="#8a8a8a" stroke-width="0.4"/>
<circle cx="671.3" cy="527.1" r="1.7" fill="#fff" stroke="#8a8a8a" stroke-width="0.4"/>
<circle cx="669.1" cy="525.4" r="1.7" fill="#fff" stroke="#8a8a8a" stroke-width="0.4"/>
<circle cx="669.1" cy="521.8" r="1.7" fill="#fff" stroke="#8a8a8a" stroke-width="0.4"/>
<circle cx="671.2" cy="519.9" r="1.7" fill="#fff" stroke="#8a8a8a" stroke-width="0.4"/>
<circle cx="673.4" cy="521.6" r="1.7" fill="#fff" stroke="#8a8a8a" stroke-width="0.4"/>
<path d="M644 535 Q667.0 535.5 690 536 L690 556 Q667.0 557.0 644 558 Z" fill="url(#wBlack)"/>
<path d="M644 535 Q667.0 535.5 690 536 L690 556 Q667.0 557.0 644 558 Z" fill="url(#wShade)"/>
<ellipse cx="644" cy="546.5" rx="5.2" ry="11.5" fill="#a4a4a4"/>
<circle cx="641.7" cy="546.5" r="1.7" fill="#fff" stroke="#8a8a8a" stroke-width="0.4"/>
<circle cx="643.9" cy="548.2" r="1.7" fill="#fff" stroke="#8a8a8a" stroke-width="0.4"/>
<circle cx="641.7" cy="550.1" r="1.7" fill="#fff" stroke="#8a8a8a" stroke-width="0.4"/>
<circle cx="639.5" cy="548.4" r="1.7" fill="#fff" stroke="#8a8a8a" stroke-width="0.4"/>
<circle cx="639.5" cy="544.8" r="1.7" fill="#fff" stroke="#8a8a8a" stroke-width="0.4"/>
<circle cx="641.6" cy="542.9" r="1.7" fill="#fff" stroke="#8a8a8a" stroke-width="0.4"/>
<circle cx="643.8" cy="544.6" r="1.7" fill="#fff" stroke="#8a8a8a" stroke-width="0.4"/>
<path d="M660 534 Q680.0 534.5 700 535 L700 551 Q680.0 551.0 660 551 Z" fill="url(#wYellow)"/>
<path d="M660 534 Q680.0 534.5 700 535 L700 551 Q680.0 551.0 660 551 Z" fill="url(#wShade)"/>
<ellipse cx="660" cy="542.5" rx="3.8" ry="8.5" fill="#f2e69a"/>
<circle cx="658.3" cy="542.5" r="1.7" fill="#fff" stroke="#8a8a8a" stroke-width="0.4"/>
<circle cx="660.5" cy="544.2" r="1.7" fill="#fff" stroke="#8a8a8a" stroke-width="0.4"/>
<circle cx="658.3" cy="546.1" r="1.7" fill="#fff" stroke="#8a8a8a" stroke-width="0.4"/>
<circle cx="656.1" cy="544.4" r="1.7" fill="#fff" stroke="#8a8a8a" stroke-width="0.4"/>
<circle cx="656.1" cy="540.8" r="1.7" fill="#fff" stroke="#8a8a8a" stroke-width="0.4"/>
<circle cx="658.2" cy="538.9" r="1.7" fill="#fff" stroke="#8a8a8a" stroke-width="0.4"/>
<circle cx="660.4" cy="540.6" r="1.7" fill="#fff" stroke="#8a8a8a" stroke-width="0.4"/>
<path d="M680 531 Q720.0 534.5 760 538 L760 555 Q720.0 551.5 680 548 Z" fill="url(#wPink)"/>
<path d="M680 531 Q720.0 534.5 760 538 L760 555 Q720.0 551.5 680 548 Z" fill="url(#wShade)"/>
<ellipse cx="680" cy="539.5" rx="3.8" ry="8.5" fill="#f2bef2"/>
<circle cx="678.3" cy="539.5" r="1.7" fill="#fff" stroke="#8a8a8a" stroke-width="0.4"/>
<circle cx="680.5" cy="541.2" r="1.7" fill="#fff" stroke="#8a8a8a" stroke-width="0.4"/>
<circle cx="678.3" cy="543.1" r="1.7" fill="#fff" stroke="#8a8a8a" stroke-width="0.4"/>
<circle cx="676.1" cy="541.4" r="1.7" fill="#fff" stroke="#8a8a8a" stroke-width="0.4"/>
<circle cx="676.1" cy="537.8" r="1.7" fill="#fff" stroke="#8a8a8a" stroke-width="0.4"/>
<circle cx="678.2" cy="535.9" r="1.7" fill="#fff" stroke="#8a8a8a" stroke-width="0.4"/>
<circle cx="680.4" cy="537.6" r="1.7" fill="#fff" stroke="#8a8a8a" stroke-width="0.4"/>
<path d="M666 549 Q713.0 549.5 760 550 L760 567 Q713.0 566.5 666 566 Z" fill="url(#wBlue)"/>
<path d="M666 549 Q713.0 549.5 760 550 L760 567 Q713.0 566.5 666 566 Z" fill="url(#wShade)"/>
<ellipse cx="666" cy="557.5" rx="3.8" ry="8.5" fill="#a8e0f8"/>
<circle cx="664.3" cy="557.5" r="1.7" fill="#fff" stroke="#8a8a8a" stroke-width="0.4"/>
<circle cx="666.5" cy="559.2" r="1.7" fill="#fff" stroke="#8a8a8a" stroke-width="0.4"/>
<circle cx="664.3" cy="561.1" r="1.7" fill="#fff" stroke="#8a8a8a" stroke-width="0.4"/>
<circle cx="662.1" cy="559.4" r="1.7" fill="#fff" stroke="#8a8a8a" stroke-width="0.4"/>
<circle cx="662.1" cy="555.8" r="1.7" fill="#fff" stroke="#8a8a8a" stroke-width="0.4"/>
<circle cx="664.2" cy="553.9" r="1.7" fill="#fff" stroke="#8a8a8a" stroke-width="0.4"/>
<circle cx="666.4" cy="555.6" r="1.7" fill="#fff" stroke="#8a8a8a" stroke-width="0.4"/>
<path d="M664 581 Q710.0 575.0 756 574 L756 589 Q710.0 590.0 664 596 Z" fill="url(#wWhite)"/>
<path d="M664 581 Q710.0 575.0 756 574 L756 589 Q710.0 590.0 664 596 Z" fill="url(#wShade)"/>
<ellipse cx="664" cy="588.5" rx="3.4" ry="7.5" fill="#fafafa"/>
<circle cx="662.5" cy="588.5" r="1.7" fill="#ddd" stroke="#8a8a8a" stroke-width="0.4"/>
<circle cx="664.7" cy="590.2" r="1.7" fill="#ddd" stroke="#8a8a8a" stroke-width="0.4"/>
<circle cx="662.5" cy="592.1" r="1.7" fill="#ddd" stroke="#8a8a8a" stroke-width="0.4"/>
<circle cx="660.3" cy="590.4" r="1.7" fill="#ddd" stroke="#8a8a8a" stroke-width="0.4"/>
<circle cx="660.3" cy="586.8" r="1.7" fill="#ddd" stroke="#8a8a8a" stroke-width="0.4"/>
<circle cx="662.4" cy="584.9" r="1.7" fill="#ddd" stroke="#8a8a8a" stroke-width="0.4"/>
<circle cx="664.6" cy="586.6" r="1.7" fill="#ddd" stroke="#8a8a8a" stroke-width="0.4"/>
<path d="M653 566.5 Q704.5 567.2 756 568 L756 574.5 Q704.5 577.8 653 581 Z" fill="url(#wRed)"/>
<path d="M653 566.5 Q704.5 567.2 756 568 L756 574.5 Q704.5 577.8 653 581 Z" fill="url(#wShade)"/>
<ellipse cx="654" cy="578.0" rx="5.5" ry="11.5" fill="#f6b0b0"/>
<circle cx="651.5" cy="578.0" r="1.7" fill="#fff" stroke="#8a8a8a" stroke-width="0.4"/>
<circle cx="653.7" cy="579.7" r="1.7" fill="#fff" stroke="#8a8a8a" stroke-width="0.4"/>
<circle cx="651.6" cy="581.6" r="1.7" fill="#fff" stroke="#8a8a8a" stroke-width="0.4"/>
<circle cx="649.4" cy="579.9" r="1.7" fill="#fff" stroke="#8a8a8a" stroke-width="0.4"/>
<circle cx="649.3" cy="576.3" r="1.7" fill="#fff" stroke="#8a8a8a" stroke-width="0.4"/>
<circle cx="651.5" cy="574.4" r="1.7" fill="#fff" stroke="#8a8a8a" stroke-width="0.4"/>
<circle cx="653.7" cy="576.1" r="1.7" fill="#fff" stroke="#8a8a8a" stroke-width="0.4"/>
</g>
</g><!-- /cables -->

<!-- measurement -->
<text x="567" y="734.2" font-size="29" fill="#333" stroke="#fff" stroke-width="0.6" textLength="68" lengthAdjust="spacing">50cm</text>
<path d="M191.5 744 V751.5 H1019.5 V743" fill="none" stroke="#a8a8a8" stroke-width="1"/>

<!-- USB cable -->
<g id="usb">
<!-- cable -->
<rect x="232" y="864" width="760" height="10.5" fill="#2c2c2c"/>
<rect x="232" y="864" width="760" height="1" fill="#3c3c3c"/>
<rect x="232" y="865" width="760" height="2" fill="#575757"/>
<rect x="232" y="867" width="760" height="1" fill="#0c0c0c"/>
<rect x="232" y="873" width="760" height="1" fill="#060606"/>
<rect x="232" y="874" width="760" height="0.6" fill="#222"/>
<!-- USB-A strain relief -->
<rect x="224" y="861.2" width="10.8" height="17" rx="1" fill="#1e1e1e"/>
<rect x="226" y="862.5" width="8" height="3" fill="#444"/>
<rect x="226" y="866.6" width="8.8" height="1.4" fill="#050505"/>
<rect x="226" y="872.5" width="8" height="3.5" fill="#3e3e3e"/>
<!-- USB-A metal -->
<rect x="152.8" y="854.5" width="28" height="29.6" fill="#fbfbfb" stroke="#c9c9c9" stroke-width="0.9"/>
<rect x="165" y="859.3" width="5.2" height="5.9" fill="#10275e"/>
<rect x="166" y="860.5" width="3.2" height="3.4" fill="#2a55b0"/>
<rect x="165" y="873.3" width="5.2" height="5.9" fill="#10275e"/>
<rect x="166" y="874.5" width="3.2" height="3.4" fill="#2a55b0"/>
<path d="M176.5 866.8 a1.6 2.2 0 1 1 0 4.4" fill="none" stroke="#bbb" stroke-width="0.6"/>
<!-- USB-A housing -->
<rect x="180" y="850.8" width="47" height="37.2" fill="#2b2b2b"/>
<rect x="180" y="850.8" width="47" height="1.3" fill="#141414"/>
<rect x="180" y="886.8" width="47" height="1.2" fill="#1a1a1a"/>
<rect x="223.7" y="851.5" width="3.3" height="36" fill="#4a4a4a"/>
<!-- micro-B strain relief -->
<rect x="989" y="861.8" width="10" height="14.4" rx="1" fill="#1e1e1e"/>
<rect x="990" y="863" width="8" height="3" fill="#444"/>
<rect x="989" y="866.8" width="9" height="1.4" fill="#050505"/>
<rect x="990" y="871.5" width="8" height="3.5" fill="#3e3e3e"/>
<!-- micro-B metal -->
<rect x="1044.5" y="853.3" width="11" height="14.3" fill="#eeeeee"/>
<rect x="1044.5" y="853.3" width="11" height="1" fill="#d8d8d8"/>
<rect x="1044.5" y="867.3" width="11" height="1.5" fill="#555"/>
<rect x="1044.5" y="870.8" width="11" height="12.6" fill="#eeeeee"/>
<rect x="1044.5" y="882.8" width="11" height="1.5" fill="#555"/>
<!-- micro-B housing -->
<rect x="997.5" y="850.8" width="47.3" height="37.2" fill="#2b2b2b"/>
<rect x="997.5" y="850.8" width="47.3" height="1.3" fill="#141414"/>
<rect x="997.5" y="886.8" width="47.3" height="1.2" fill="#1a1a1a"/>
<rect x="997.5" y="851.5" width="3.3" height="36" fill="#4f4f4f"/>
</g>
</svg>
</body></html>
